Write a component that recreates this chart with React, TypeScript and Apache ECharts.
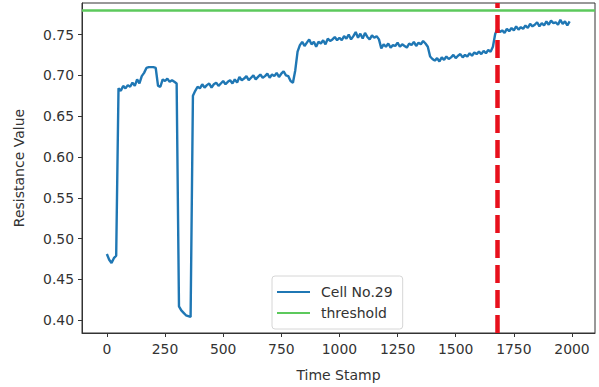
import React, { useEffect, useRef } from "react";
import * as echarts from "echarts";

// Resistance readings of Cell No.29, one reading every SAMPLE_STEP time stamps, starting at 0
const SAMPLE_STEP = 10;
const resistance: number[] = [
  0.481, 0.474, 0.470, 0.476, 0.479, 0.684, 0.681, 0.687, 0.684, 0.688,
  0.686, 0.691, 0.687, 0.695, 0.690, 0.699, 0.703, 0.709, 0.710, 0.710,
  0.710, 0.709, 0.687, 0.686, 0.695, 0.693, 0.696, 0.692, 0.694, 0.692,
  0.690, 0.417, 0.412, 0.409, 0.406, 0.405, 0.404, 0.675, 0.681, 0.686,
  0.684, 0.689, 0.685, 0.688, 0.690, 0.685, 0.689, 0.691, 0.687, 0.690,
  0.693, 0.689, 0.692, 0.694, 0.690, 0.695, 0.691, 0.698, 0.694, 0.696,
  0.699, 0.694, 0.697, 0.700, 0.695, 0.698, 0.701, 0.697, 0.699, 0.702,
  0.697, 0.701, 0.699, 0.703, 0.698, 0.702, 0.705, 0.700, 0.699, 0.693,
  0.691, 0.706, 0.729, 0.737, 0.741, 0.736, 0.740, 0.744, 0.738, 0.741,
  0.735, 0.741, 0.739, 0.743, 0.738, 0.745, 0.742, 0.744, 0.747, 0.743,
  0.746, 0.743, 0.748, 0.745, 0.750, 0.744, 0.748, 0.753, 0.746, 0.751,
  0.745, 0.752, 0.747, 0.744, 0.749, 0.746, 0.748, 0.744, 0.733, 0.738,
  0.735, 0.739, 0.734, 0.737, 0.736, 0.740, 0.735, 0.738, 0.736, 0.734,
  0.739, 0.737, 0.741, 0.736, 0.740, 0.738, 0.742, 0.739, 0.735, 0.723,
  0.720, 0.718, 0.721, 0.717, 0.722, 0.719, 0.723, 0.720, 0.722, 0.725,
  0.721, 0.724, 0.726, 0.722, 0.725, 0.723, 0.727, 0.724, 0.728, 0.726,
  0.729, 0.726, 0.730, 0.727, 0.731, 0.729, 0.735, 0.751, 0.757, 0.753,
  0.755, 0.752, 0.757, 0.754, 0.758, 0.755, 0.760, 0.756, 0.759, 0.757,
  0.761, 0.758, 0.763, 0.760, 0.762, 0.765, 0.760, 0.764, 0.761, 0.766,
  0.762, 0.767, 0.764, 0.765, 0.762, 0.768, 0.763, 0.766, 0.761, 0.766,
];

const THRESHOLD = 0.78;
const DETECTION_TIME = 1680;

const xTicks = [0, 250, 500, 750, 1000, 1250, 1500, 1750, 2000];
const yTicks = [0.4, 0.45, 0.5, 0.55, 0.6, 0.65, 0.7, 0.75];

const FONT = "DejaVu Sans";

export default function App() {
  const ref = useRef<HTMLDivElement>(null);

  useEffect(() => {
    if (!ref.current) return;
    const chart = echarts.init(ref.current, undefined, { renderer: "svg" });
    const seriesData = resistance.map((v, i) => [i * SAMPLE_STEP, v]);

    chart.setOption({
      animation: false,
      backgroundColor: "#ffffff",
      textStyle: { fontFamily: FONT },
      grid: {
        left: 82,
        right: 4,
        top: 3,
        bottom: 49,
        show: true,
        borderColor: "#333",
        borderWidth: 1,
        backgroundColor: "transparent",
      },
      legend: {
        data: ["Cell No.29", "threshold"],
        orient: "vertical",
        left: 272,
        top: 276,
        padding: [8, 10, 8, 5],
        itemGap: 5,
        itemWidth: 33,
        itemHeight: 2,
        icon: "rect",
        backgroundColor: "rgba(255,255,255,0.85)",
        borderColor: "#d6d6d6",
        borderWidth: 1,
        borderRadius: 3,
        textStyle: {
          fontFamily: FONT,
          fontSize: 14,
          color: "#333",
          lineHeight: 16,
          padding: [0, 0, 0, 6],
        },
      },
      xAxis: {
        type: "value",
        min: -107,
        max: 2099,
        name: "Time Stamp",
        nameLocation: "middle",
        nameGap: 35,
        nameTextStyle: { fontFamily: FONT, fontSize: 14, color: "#333" },
        splitLine: { show: false },
        axisLine: { show: true, onZero: false, lineStyle: { color: "#333" } },
        axisTick: {
          show: true,
          length: 4,
          customValues: xTicks,
          lineStyle: { color: "#333" },
        },
        axisLabel: {
          customValues: xTicks,
          fontFamily: FONT,
          fontSize: 13.9,
          color: "#333",
          margin: 9,
          formatter: (v: number) => String(v),
        },
      },
      yAxis: {
        type: "value",
        min: 0.3843,
        max: 0.7886,
        name: "Resistance Value",
        nameLocation: "middle",
        nameGap: 56,
        nameTextStyle: { fontFamily: FONT, fontSize: 14, color: "#333" },
        splitLine: { show: false },
        axisLine: { show: true, onZero: false, lineStyle: { color: "#333" } },
        axisTick: {
          show: true,
          length: 4,
          customValues: yTicks,
          lineStyle: { color: "#333" },
        },
        axisLabel: {
          customValues: yTicks,
          fontFamily: FONT,
          fontSize: 13.9,
          color: "#333",
          margin: 8,
          formatter: (v: number) => v.toFixed(2),
        },
      },
      series: [
        {
          name: "Cell No.29",
          type: "line",
          data: seriesData,
          showSymbol: false,
          symbol: "none",
          color: "#1f77b4",
          lineStyle: { color: "#1f77b4", width: 2.4 },
          z: 2,
        },
        {
          name: "threshold",
          type: "line",
          data: [],
          symbol: "none",
          color: "#5cc95c",
          lineStyle: { color: "#5cc95c", width: 2.5 },
          markLine: {
            silent: true,
            symbol: "none",
            label: { show: false },
            lineStyle: { color: "#5cc95c", width: 2.5, type: "solid" },
            data: [{ yAxis: THRESHOLD }],
          },
          z: 3,
        },
        {
          name: "detection",
          type: "line",
          data: [],
          symbol: "none",
          markLine: {
            silent: true,
            symbol: "none",
            label: { show: false },
            lineStyle: { color: "#e8101c", width: 4.5, type: [18, 7] },
            data: [{ xAxis: DETECTION_TIME }],
          },
          z: 4,
        },
      ],
    });

    return () => chart.dispose();
  }, []);

  return (
    <div
      ref={ref}
      style={{ position: "absolute", left: 0, top: 0, width: 599, height: 387 }}
    />
  );
}
